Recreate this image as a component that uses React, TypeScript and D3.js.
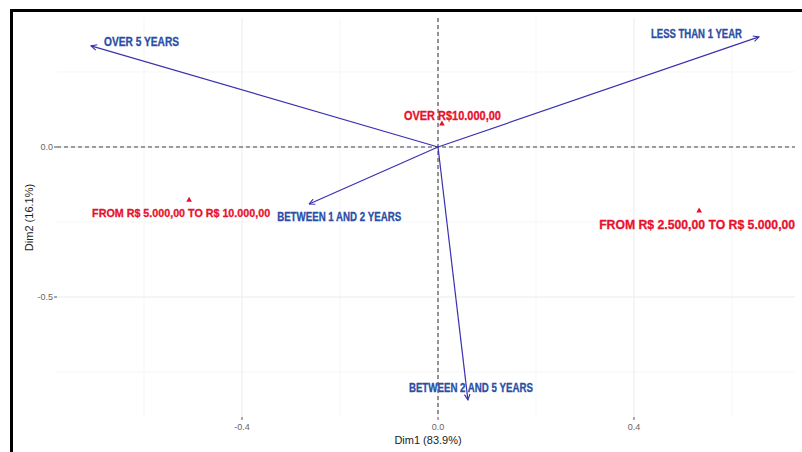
import React from "react";
import * as d3 from "d3";

const colNames = ["OVER 5 YEARS", "LESS THAN 1 YEAR", "BETWEEN 1 AND 2 YEARS", "BETWEEN 2 AND 5 YEARS"];
const colDim1 = [-0.708, 0.655, -0.263, 0.061];
const colDim2 = [0.337, 0.367, -0.19, -0.843];

const rowNames = ["OVER R$10.000,00", "FROM R$ 5.000,00 TO R$ 10.000,00", "FROM R$ 2.500,00 TO R$ 5.000,00"];
const rowDim1 = [0.008, -0.508, 0.533];
const rowDim2 = [0.077, -0.177, -0.213];

const xTicks = [-0.4, 0.0, 0.4];
const yTicks = [0.0, -0.5];
const xMinor = [-0.6, -0.2, 0.2, 0.6];
const yMinor = [0.25, -0.25, -0.75];

const xTitle = "Dim1 (83.9%)";
const yTitle = "Dim2 (16.1%)";

// label layout (pixels): [dx of centre, dy of baseline, width, font size]
const colLabelLayout = [[50.5, 0, 75, 12], [-62.5, 1, 91, 12], [30, 17, 124, 12], [3, -8, 124, 12]];
const rowLabelLayout = [[10.5, -4, 97, 12], [-8, 17, 178, 11.5], [-2, 18, 196, 12.5]];

const W = 802, H = 452;
const panel = { left: 57, right: 795, top: 18, bottom: 417 };

export default function App() {
  const x = d3.scaleLinear().domain([-0.7776, 0.7286]).range([panel.left, panel.right]);
  const y = d3.scaleLinear().domain([0.43, -0.9]).range([panel.top, panel.bottom]);
  const labelFont = "'Liberation Sans', Arial, sans-serif";
  const arrowColor = "#3a31b0";
  const colLabelColor = "#2a4ea6";
  const rowColor = "#e8112d";
  const tri = d3.symbol().type(d3.symbolTriangle).size(14);
  const fmt = (v: number) => (v === 0 ? "0.0" : d3.format(".1f")(v).replace("−", "-"));
  return (
    <svg width={W} height={H} style={{ position: "absolute", left: 0, top: 0, background: "#fff" }}
      fontFamily="'Liberation Sans', Arial, sans-serif">
      <defs>
        <marker id="arr" viewBox="0 0 10 10" refX="9" refY="5" markerWidth="7" markerHeight="7" orient="auto-start-reverse" markerUnits="userSpaceOnUse">
          <path d="M1,1 L9,5 L1,9" fill="none" stroke={arrowColor} strokeWidth={1.6} />
        </marker>
      </defs>
      <rect x={0} y={0} width={W} height={H} fill="#fff" />
      {xMinor.map((v) => (
        <line key={"xm" + v} x1={x(v)} x2={x(v)} y1={panel.top} y2={panel.bottom} stroke="#f2f2f2" strokeWidth={0.7} />
      ))}
      {yMinor.map((v) => (
        <line key={"ym" + v} x1={panel.left} x2={panel.right} y1={y(v)} y2={y(v)} stroke="#f2f2f2" strokeWidth={0.7} />
      ))}
      {xTicks.map((v) => (
        <line key={"xg" + v} x1={x(v)} x2={x(v)} y1={panel.top} y2={panel.bottom} stroke="#ebebeb" strokeWidth={1} />
      ))}
      {yTicks.map((v) => (
        <line key={"yg" + v} x1={panel.left} x2={panel.right} y1={y(v)} y2={y(v)} stroke="#ebebeb" strokeWidth={1} />
      ))}
      <line x1={panel.left} x2={panel.right} y1={y(0)} y2={y(0)} stroke="#444" strokeWidth={1.1} strokeDasharray="4,3" />
      <line x1={x(0)} x2={x(0)} y1={panel.top} y2={panel.bottom} stroke="#444" strokeWidth={1.1} strokeDasharray="4,3" />
      {xTicks.map((v) => (
        <g key={"xt" + v}>
          <line x1={x(v)} x2={x(v)} y1={panel.bottom} y2={panel.bottom + 3} stroke="#555" strokeWidth={1} />
          <text x={x(v)} y={panel.bottom + 13} textAnchor="middle" fontSize={9} fill="#666">{fmt(v)}</text>
        </g>
      ))}
      {yTicks.map((v) => (
        <g key={"yt" + v}>
          <line x1={panel.left - 3} x2={panel.left} y1={y(v)} y2={y(v)} stroke="#555" strokeWidth={1} />
          <text x={panel.left - 4} y={y(v) + 3} textAnchor="end" fontSize={9} fill="#666">{fmt(v)}</text>
        </g>
      ))}
      <text x={428} y={444} textAnchor="middle" fontSize={11} fill="#222">{xTitle}</text>
      <text transform={`translate(33,${(panel.top + panel.bottom) / 2}) rotate(-90)`} textAnchor="middle" fontSize={11} fill="#222">{yTitle}</text>
      {colNames.map((n, i) => (
        <line key={"a" + i} x1={x(0)} y1={y(0)} x2={x(colDim1[i])} y2={y(colDim2[i])} stroke={arrowColor} strokeWidth={1.2} markerEnd="url(#arr)" />
      ))}
      {colNames.map((n, i) => {
        const [dx, dy, w, fs] = colLabelLayout[i];
        const cx = x(colDim1[i]) + dx;
        return (
          <text key={"cl" + i} x={cx - w / 2} y={y(colDim2[i]) + dy} textLength={w} lengthAdjust="spacingAndGlyphs"
            fontSize={fs} fontWeight="bold" fill={colLabelColor} stroke={colLabelColor} strokeWidth={0.3} fontFamily={labelFont}>{n}</text>
        );
      })}
      {rowNames.map((n, i) => (
        <path key={"rp" + i} d={tri() as string} transform={`translate(${x(rowDim1[i])},${y(rowDim2[i])})`} fill={rowColor} />
      ))}
      {rowNames.map((n, i) => {
        const [dx, dy, w, fs] = rowLabelLayout[i];
        const cx = x(rowDim1[i]) + dx;
        return (
          <text key={"rl" + i} x={cx - w / 2} y={y(rowDim2[i]) + dy} textLength={w} lengthAdjust="spacingAndGlyphs"
            fontSize={fs} fontWeight="bold" fill={rowColor} stroke={rowColor} strokeWidth={0.3} fontFamily={labelFont}>{n}</text>
        );
      })}
      <rect x={11.5} y={10.5} width={W + 10} height={H + 10} fill="none" stroke="#000" strokeWidth={3} />
    </svg>
  );
}
